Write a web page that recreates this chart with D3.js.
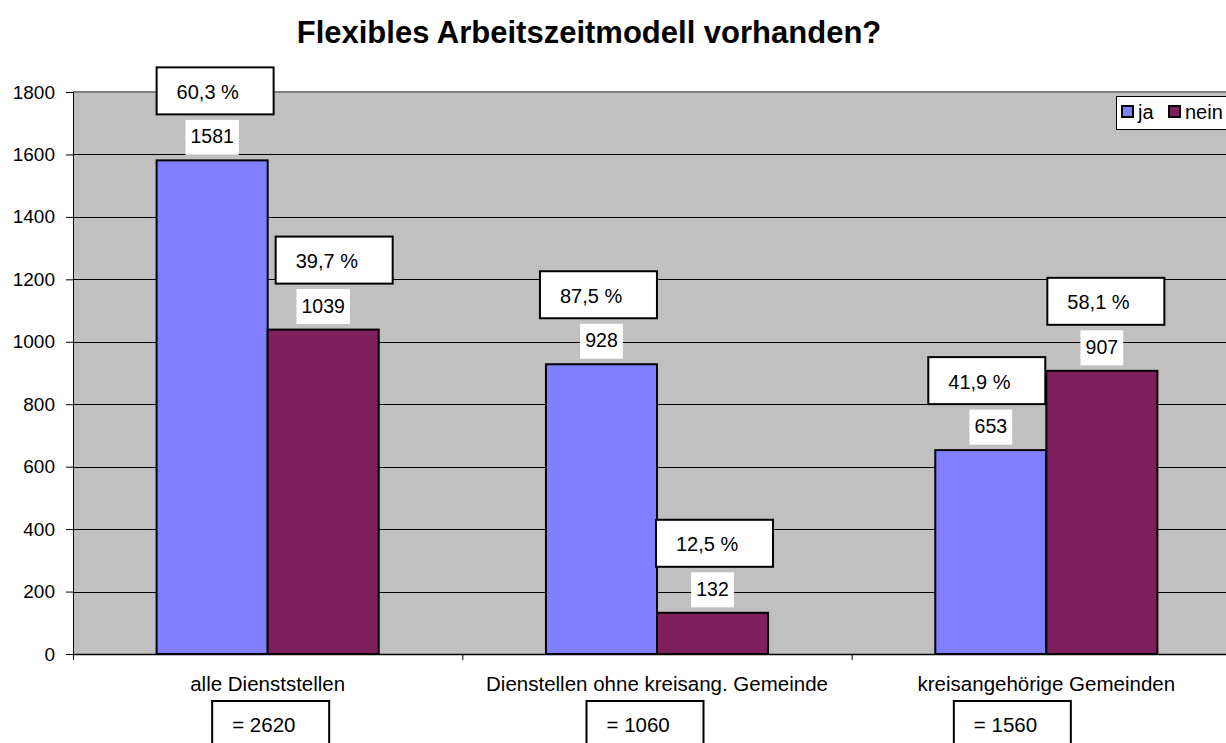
<!DOCTYPE html>
<html>
<head>
<meta charset="utf-8">
<script src="https://cdnjs.cloudflare.com/ajax/libs/d3/7.8.5/d3.min.js"></script>
<style>
  body { margin: 0; background: #fff; }
  text { font-family: "Liberation Sans", Arial, sans-serif; fill: #000; }
</style>
</head>
<body>
<div id="chart"></div>
<script>
var categories = ["alle Dienststellen", "Dienstellen ohne kreisang. Gemeinde", "kreisangehörige Gemeinden"];
var seriesNames = ["ja", "nein"];
var jaValues = [1581, 928, 653];
var neinValues = [1039, 132, 907];
var jaPercent = ["60,3 %", "87,5 %", "41,9 %"];
var neinPercent = ["39,7 %", "12,5 %", "58,1 %"];
var totals = ["= 2620", "= 1060", "= 1560"];
var yTicks = [0, 200, 400, 600, 800, 1000, 1200, 1400, 1600, 1800];

var colors = { ja: "#8080ff", nein: "#801f5e" };

// hand placed annotation boxes (offsets in px)
var pctNudge = { ja: [0, -6, -7], nein: [8, -1, 1] };
var totalNudge = [3, -12, -34];

var svgWidth = 1226;
var svgHeight = 743;
var margin = { top: 92, right: -15, bottom: 89, left: 73 };
var width = svgWidth - margin.left - margin.right;
var height = svgHeight - margin.top - margin.bottom;

var svg = d3.select("#chart")
    .append("svg")
    .attr("width", svgWidth)
    .attr("height", svgHeight);

svg.append("text")
    .attr("x", 589)
    .attr("y", 43)
    .attr("text-anchor", "middle")
    .style("font-size", "31px")
    .style("font-weight", "bold")
    .text("Flexibles Arbeitszeitmodell vorhanden?");

var chartGroup = svg.append("g")
    .attr("transform", `translate(${margin.left}, ${margin.top})`);

var xScale = d3.scaleBand()
    .domain(categories)
    .range([0, width])
    .padding(0);

var xInner = d3.scaleBand()
    .domain(seriesNames)
    .range([0, xScale.bandwidth()])
    .paddingInner(0)
    .paddingOuter(0.753);

var yScale = d3.scaleLinear()
    .domain([0, 1800])
    .range([height, 0]);

chartGroup.append("rect")
    .attr("width", width)
    .attr("height", height)
    .attr("fill", "#c0c0c0");

chartGroup.append("g")
    .selectAll("line")
    .data(yTicks.slice(1, -1))
    .enter()
    .append("line")
    .attr("x1", 0)
    .attr("x2", width)
    .attr("y1", d => Math.round(yScale(d)) + 0.5)
    .attr("y2", d => Math.round(yScale(d)) + 0.5)
    .attr("stroke", "#000")
    .attr("stroke-width", 1);

chartGroup.append("line")
    .attr("x1", 0)
    .attr("x2", width)
    .attr("y1", yScale(1800))
    .attr("y2", yScale(1800))
    .attr("stroke", "#808080")
    .attr("stroke-width", 2);

var leftAxis = d3.axisLeft(yScale)
    .tickValues(yTicks)
    .tickFormat(d3.format("d"))
    .tickSize(7)
    .tickPadding(11);

var yAxis = chartGroup.append("g").call(leftAxis);
yAxis.select(".domain").attr("stroke", "#000");
yAxis.selectAll("text")
    .style("font-size", "19px")
    .style("font-family", "'Liberation Sans', Arial, sans-serif");

var bottomAxis = d3.axisBottom(xScale)
    .tickSize(0)
    .tickFormat("");

var xAxis = chartGroup.append("g")
    .attr("transform", `translate(0, ${height})`)
    .call(bottomAxis);
xAxis.select(".domain").attr("stroke", "#000").attr("stroke-width", 1.5);

// category separator ticks
chartGroup.append("g")
    .selectAll("line")
    .data(categories)
    .enter()
    .append("line")
    .attr("x1", d => xScale(d) + 0.5)
    .attr("x2", d => xScale(d) + 0.5)
    .attr("y1", height)
    .attr("y2", height + 6)
    .attr("stroke", "#000");

var barData = [];
categories.forEach(function(c, i) {
    barData.push({ cat: c, i: i, series: "ja", value: jaValues[i], pct: jaPercent[i] });
    barData.push({ cat: c, i: i, series: "nein", value: neinValues[i], pct: neinPercent[i] });
});

var barsGroup = chartGroup.selectAll("rect.bar")
    .data(barData)
    .enter()
    .append("rect")
    .classed("bar", true)
    .attr("x", d => xScale(d.cat) + xInner(d.series))
    .attr("y", d => yScale(d.value))
    .attr("width", xInner.bandwidth())
    .attr("height", d => height - yScale(d.value))
    .attr("fill", d => colors[d.series])
    .attr("stroke", "#000")
    .attr("stroke-width", 2);

// value labels on white background
var valueLabels = chartGroup.selectAll("g.valueLabel")
    .data(barData)
    .enter()
    .append("g")
    .classed("valueLabel", true)
    .attr("transform", d => `translate(${xScale(d.cat) + xInner(d.series) + xInner.bandwidth() / 2}, ${yScale(d.value) - 17})`);

valueLabels.append("rect")
    .attr("x", d => -(String(d.value).length * 10.6 + 11) / 2)
    .attr("y", -23.5)
    .attr("width", d => String(d.value).length * 10.6 + 11)
    .attr("height", 35)
    .attr("fill", "#fff");

valueLabels.append("text")
    .attr("text-anchor", "middle")
    .style("font-size", "19.5px")
    .text(d => d.value);

// percentage boxes
var pctBoxes = chartGroup.selectAll("g.pctBox")
    .data(barData)
    .enter()
    .append("g")
    .classed("pctBox", true)
    .attr("transform", d => `translate(${xScale(d.cat) + xInner(d.series) + pctNudge[d.series][d.i]}, ${yScale(d.value) - 46})`);

pctBoxes.append("rect")
    .attr("x", 0)
    .attr("y", -47)
    .attr("width", 117)
    .attr("height", 47)
    .attr("fill", "#fff")
    .attr("stroke", "#000")
    .attr("stroke-width", 2);

pctBoxes.append("text")
    .attr("x", 20)
    .attr("y", -15.5)
    .style("font-size", "20px")
    .text(d => d.pct);

// category labels
chartGroup.selectAll("text.catLabel")
    .data(categories)
    .enter()
    .append("text")
    .classed("catLabel", true)
    .attr("x", d => xScale(d) + xScale.bandwidth() / 2)
    .attr("y", height + 36.5)
    .attr("text-anchor", "middle")
    .style("font-size", "20.5px")
    .text(d => d);

// totals boxes
var totalBoxes = chartGroup.selectAll("g.totalBox")
    .data(categories)
    .enter()
    .append("g")
    .classed("totalBox", true)
    .attr("transform", (d, i) => `translate(${xScale(d) + xScale.bandwidth() / 2 - 58.5 + totalNudge[i]}, ${height + 47})`);

totalBoxes.append("rect")
    .attr("width", 117)
    .attr("height", 60)
    .attr("fill", "#fff")
    .attr("stroke", "#000")
    .attr("stroke-width", 2);

totalBoxes.append("text")
    .attr("x", 20)
    .attr("y", 30.5)
    .style("font-size", "20.5px")
    .text((d, i) => totals[i]);

// legend
var legend = svg.append("g")
    .attr("transform", "translate(1116, 96)");

legend.append("rect")
    .attr("x", 0.5)
    .attr("y", 0.5)
    .attr("width", 140)
    .attr("height", 33)
    .attr("fill", "#fff")
    .attr("stroke", "#000")
    .attr("stroke-width", 1);

var legendItems = legend.selectAll("g.legendItem")
    .data(seriesNames)
    .enter()
    .append("g")
    .classed("legendItem", true)
    .attr("transform", (d, i) => `translate(${6 + i * 47}, 10)`);

legendItems.append("rect")
    .attr("width", 11)
    .attr("height", 11)
    .attr("fill", d => colors[d])
    .attr("stroke", "#000")
    .attr("stroke-width", 2);

legendItems.append("text")
    .attr("x", 16)
    .attr("y", 13)
    .style("font-size", "20px")
    .text(d => d);
</script>
</body>
</html>
